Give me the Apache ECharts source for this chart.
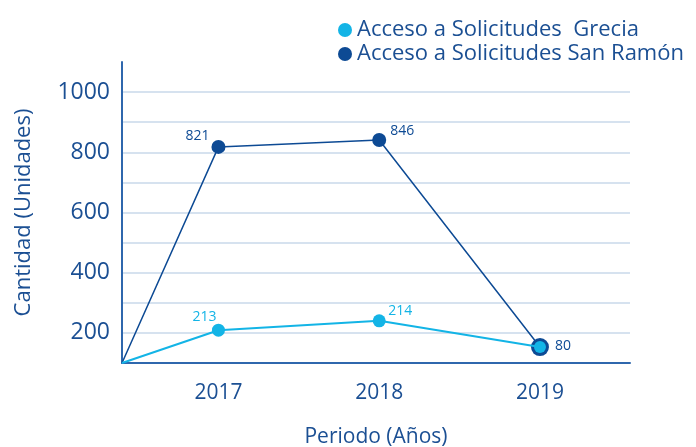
<!DOCTYPE html>
<html>
<head>
<meta charset="utf-8">
<script src="https://cdn.jsdelivr.net/npm/echarts@6/dist/echarts.min.js"></script>
<style>
  html, body { margin: 0; padding: 0; background: #ffffff; }
  #chart { width: 696px; height: 447px; }
</style>
</head>
<body>
<div id="chart"></div>
<script>
// years shown on the x axis; first entry is where both lines start (axis corner)
const years = [2016.4, 2017, 2018, 2019];
const yearLabels = [2017, 2018, 2019];
const grecia = [100, 209, 240, 153];
const sanRamon = [100, 818, 841, 153];
// printed labels (as they appear in the picture)
const greciaLabels = ["", "213", "214", ""];
const sanRamonLabels = ["", "821", "846", "80"];
const yTicks = [200, 400, 600, 800, 1000];

const dark = "#0d4a94";
const light = "#13b4e6";
const axisBlue = "#2f67ad";
const textBlue = "#1b4f93";
const font = "'Open Sans', 'Noto Sans', sans-serif";

const greciaOffsets = [null, [-14, -13], [21, -10], null];
const sanRamonOffsets = [null, [-21, -11], [23, -9], [23, -1]];

function buildData(values, labels, offsets, color, sizes) {
  return values.map((v, i) => {
    const item = { value: [years[i], v] };
    if (i === 0) {
      item.symbol = "none";
    } else {
      item.symbolSize = sizes[i];
    }
    if (labels[i]) {
      item.label = {
        show: true,
        formatter: labels[i],
        position: "inside",
        offset: offsets[i],
        color: color,
        fontSize: 14,
        fontFamily: font
      };
    }
    return item;
  });
}

const chart = echarts.init(document.getElementById("chart"));
chart.setOption({
  animation: false,
  legend: {
    orient: "vertical",
    left: 333,
    top: 14,
    itemGap: 2,
    itemWidth: 14,
    itemHeight: 14,
    icon: "circle",
    data: ["Acceso a Solicitudes  Grecia", "Acceso a Solicitudes San Ramón"],
    textStyle: { color: textBlue, fontSize: 22, fontFamily: font }
  },
  grid: { left: 122, right: 66, top: 62, bottom: 84, outerBoundsMode: "none" },
  xAxis: {
    type: "value",
    min: 2016.4,
    max: 2019.56,
    name: "Periodo (Años)",
    nameLocation: "middle",
    nameGap: 64,
    nameTextStyle: { color: textBlue, fontSize: 21, fontFamily: font },
    axisLine: { show: true, lineStyle: { color: axisBlue, width: 2 } },
    axisTick: { show: false },
    splitLine: { show: false },
    axisLabel: {
      customValues: yearLabels,
      formatter: (v) => String(v),
      color: textBlue,
      fontSize: 21,
      fontFamily: font,
      margin: 20
    }
  },
  yAxis: {
    type: "value",
    min: 100,
    max: 1100,
    interval: 100,
    name: "Cantidad (Unidades)",
    nameLocation: "middle",
    nameGap: 87,
    nameTextStyle: { color: textBlue, fontSize: 22, fontFamily: font },
    axisLine: { show: true, lineStyle: { color: axisBlue, width: 2 } },
    axisTick: { show: false },
    splitLine: {
      show: true,
      showMaxLine: false,
      lineStyle: { color: "#c8d8ea", width: 1.5 }
    },
    axisLabel: {
      formatter: (v) => (yTicks.includes(v) ? String(v) : ""),
      color: textBlue,
      fontSize: 23,
      fontFamily: font,
      margin: 12
    }
  },
  series: [
    {
      name: "Acceso a Solicitudes San Ramón",
      type: "line",
      z: 2,
      symbol: "circle",
      color: dark,
      lineStyle: { color: dark, width: 1.5 },
      itemStyle: { color: dark },
      data: buildData(sanRamon, sanRamonLabels, sanRamonOffsets, dark, [0, 14, 14, 18])
    },
    {
      name: "Acceso a Solicitudes  Grecia",
      type: "line",
      z: 3,
      symbol: "circle",
      color: light,
      lineStyle: { color: light, width: 2 },
      itemStyle: { color: light },
      data: buildData(grecia, greciaLabels, greciaOffsets, light, [0, 13, 13, 12])
    }
  ]
});
</script>
</body>
</html>
